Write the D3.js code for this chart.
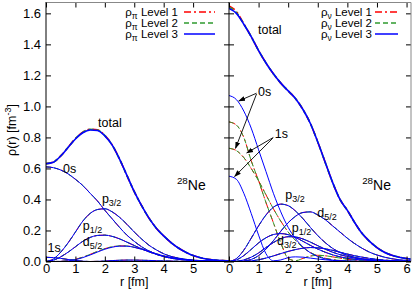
<!DOCTYPE html>
<html>
<head>
<meta charset="utf-8">
<script src="https://cdn.jsdelivr.net/npm/d3@7"></script>
<style>
  body { margin: 0; background: #fff; }
  svg { font-family: "Liberation Sans", Arial, sans-serif; }
  .tick line { stroke: #000; }
</style>
</head>
<body>
<svg id="chart" width="415" height="291"></svg>
<script>
// radial grid (fm)
var rVals = [0,0.25,0.5,0.75,1,1.25,1.5,1.75,2,2.25,2.5,2.75,3,3.25,3.5,3.75,4,4.25,4.5,4.75,5,5.25,5.5,5.75,6,6.25];

// proton densities
var piTotal1 = [0.631,0.641,0.681,0.737,0.793,0.834,0.853,0.849,0.813,0.752,0.661,0.555,0.45,0.36,0.28,0.215,0.165,0.122,0.087,0.06,0.038,0.024,0.015,0.009,0.006,0.004];
var piTotal2 = [0.631,0.641,0.681,0.736,0.792,0.833,0.852,0.848,0.812,0.751,0.66,0.555,0.45,0.36,0.28,0.215,0.165,0.122,0.087,0.06,0.038,0.024,0.015,0.009,0.006,0.004];
var piTotal3 = [0.63,0.64,0.68,0.735,0.79,0.83,0.848,0.845,0.81,0.75,0.66,0.555,0.45,0.36,0.28,0.215,0.165,0.122,0.087,0.06,0.038,0.024,0.015,0.009,0.006,0.004];
var pi0s  = [0.61,0.605,0.59,0.565,0.53,0.49,0.44,0.39,0.33,0.275,0.22,0.17,0.13,0.095,0.068,0.047,0.032,0.021,0.014,0.009,0.006,0.004,0.002,0.001,0.001,0];
var pi1s  = [0.027,0.025,0.02,0.013,0.007,0.002,0,0.001,0.003,0.006,0.008,0.009,0.009,0.008,0.007,0.005,0.004,0.003,0.002,0.001,0.001,0,0,0,0,0];
var piP32 = [0,0.016,0.06,0.12,0.19,0.26,0.31,0.335,0.34,0.32,0.285,0.24,0.19,0.145,0.105,0.075,0.05,0.033,0.022,0.014,0.009,0.006,0.004,0.002,0.001,0.001];
var piP12 = [0,0.008,0.03,0.06,0.095,0.13,0.155,0.168,0.17,0.162,0.146,0.125,0.103,0.082,0.062,0.046,0.033,0.023,0.016,0.011,0.007,0.005,0.003,0.002,0.001,0.001];
var piD52 = [0,0,0.001,0.004,0.012,0.025,0.042,0.061,0.079,0.092,0.099,0.099,0.091,0.079,0.065,0.05,0.036,0.025,0.017,0.011,0.007,0.004,0.003,0.002,0.001,0.001];
var piD52b = [0,0,0.001,0.005,0.014,0.028,0.046,0.065,0.083,0.095,0.101,0.1,0.092,0.08,0.065,0.05,0.036,0.025,0.017,0.011,0.007,0.004,0.003,0.002,0.001,0.001];

// neutron densities
var nuTotal1 = [1.648,1.612,1.533,1.45,1.36,1.28,1.21,1.15,1.1,1.05,0.98,0.89,0.77,0.64,0.51,0.4,0.33,0.25,0.18,0.13,0.09,0.06,0.04,0.028,0.019,0.013];
var nuTotal2 = [1.64,1.606,1.531,1.45,1.36,1.28,1.21,1.15,1.1,1.05,0.98,0.89,0.77,0.64,0.51,0.4,0.33,0.25,0.18,0.13,0.09,0.06,0.04,0.028,0.019,0.013];
var nuTotal3 = [1.632,1.6,1.53,1.45,1.36,1.28,1.21,1.15,1.1,1.05,0.98,0.89,0.77,0.64,0.51,0.4,0.33,0.25,0.18,0.13,0.09,0.06,0.04,0.028,0.019,0.013];
var nu0s3  = [1.07,1.044,0.97,0.86,0.72,0.58,0.44,0.32,0.22,0.147,0.094,0.056,0.032,0.017,0.009,0.004,0.002,0.001,0,0,0,0,0,0,0,0];
var nu0s12 = [0.73,0.715,0.67,0.6,0.52,0.43,0.34,0.26,0.19,0.135,0.09,0.058,0.036,0.021,0.012,0.007,0.004,0.002,0.001,0,0,0,0,0,0,0];
var nu1s3  = [0.55,0.53,0.44,0.31,0.17,0.05,0.005,0.01,0.025,0.03,0.028,0.022,0.016,0.011,0.007,0.004,0.003,0.002,0.001,0,0,0,0,0,0,0];
var nu1s12 = [0.9,0.88,0.8,0.65,0.52,0.38,0.25,0.12,0.02,0.005,0.02,0.035,0.04,0.037,0.03,0.022,0.015,0.01,0.006,0.004,0.002,0.001,0,0,0,0];
var nuP32 = [0,0.019,0.073,0.15,0.23,0.3,0.35,0.37,0.36,0.325,0.276,0.22,0.167,0.122,0.085,0.058,0.04,0.027,0.018,0.012,0.008,0.005,0.003,0.002,0.001,0.001];
var nuP12 = [0,0.01,0.038,0.078,0.12,0.153,0.174,0.18,0.173,0.155,0.13,0.104,0.08,0.06,0.043,0.03,0.021,0.014,0.01,0.007,0.005,0.003,0.002,0.001,0.001,0];
var nuD32b = [0,0.002,0.01,0.028,0.055,0.09,0.122,0.147,0.16,0.158,0.145,0.125,0.102,0.08,0.06,0.044,0.032,0.022,0.015,0.01,0.007,0.005,0.003,0.002,0.001,0.001];
var nuD52 = [0,0,0.003,0.013,0.038,0.08,0.134,0.195,0.25,0.292,0.316,0.32,0.3,0.27,0.23,0.19,0.15,0.115,0.085,0.06,0.042,0.028,0.018,0.011,0.007,0.004];
var nuD32 = [0,0,0.001,0.004,0.011,0.022,0.036,0.051,0.065,0.077,0.086,0.09,0.088,0.082,0.072,0.06,0.048,0.037,0.028,0.02,0.014,0.009,0.006,0.004,0.002,0.001];

// ticks and labels
var xTicksLeft = [0,1,2,3,4,5];
var xTicksRight = [0,1,2,3,4,5,6];
var yTicks = [0,0.2,0.4,0.6,0.8,1.0,1.2,1.4,1.6];
var levelNames = ["Level 1", "Level 2", "Level 3"];
var levelColors = ["#ff0000", "#2f9a2f", "#0000ff"];
var levelDash = ["7,3,2,3", "5,3", null];

var svg = d3.select("#chart");

var y = d3.scaleLinear().domain([0, 1.67]).range([261.5, 2.5]);
var xL = d3.scaleLinear().domain([0, 6.22]).range([46, 229]);
var xR = d3.scaleLinear().domain([0, 6.15]).range([229, 411]);

// clip regions
var defs = svg.append("defs");
defs.append("clipPath").attr("id", "clipL").append("rect")
    .attr("x", 46).attr("y", 2).attr("width", 183).attr("height", 260);
defs.append("clipPath").attr("id", "clipR").append("rect")
    .attr("x", 229).attr("y", 2).attr("width", 182).attr("height", 260);
defs.append("marker").attr("id", "arrow")
    .attr("viewBox", "0 0 10 10").attr("refX", 9).attr("refY", 5)
    .attr("markerWidth", 7).attr("markerHeight", 7)
    .attr("markerUnits", "userSpaceOnUse")
    .attr("orient", "auto")
  .append("path").attr("d", "M0,1.5 L10,5 L0,8.5 Z").attr("fill", "#000");

function drawPanel(x, clipId, totals, orbitals) {
    var g = svg.append("g").attr("clip-path", "url(#" + clipId + ")");
    var line = d3.line()
        .x(function (d, i) { return x(rVals[i]); })
        .y(function (d) { return y(d); })
        .curve(d3.curveMonotoneX);
    for (var lv = 0; lv < 3; lv++) {
        orbitals[lv].forEach(function (arr) {
            g.append("path")
              .datum(arr)
              .attr("d", line)
              .attr("fill", "none")
              .attr("stroke", levelColors[lv])
              .attr("stroke-width", 1)
              .attr("stroke-dasharray", levelDash[lv]);
        });
        g.append("path")
          .datum(totals[lv])
          .attr("d", line)
          .attr("fill", "none")
          .attr("stroke", levelColors[lv])
          .attr("stroke-width", 1.6)
          .attr("stroke-dasharray", levelDash[lv]);
    }
}

drawPanel(xL, "clipL",
    [piTotal1, piTotal2, piTotal3],
    [[pi0s, pi1s, piP32, piP12, piD52b],
     [pi0s, pi1s, piP32, piP12, piD52b],
     [pi0s, pi1s, piP32, piP12, piD52]]);

drawPanel(xR, "clipR",
    [nuTotal1, nuTotal2, nuTotal3],
    [[nu0s12, nu1s12, nuP32, nuP12, nuD32b, nuD52, nuD32],
     [nu0s12, nu1s12, nuP32, nuP12, nuD32b, nuD52, nuD32],
     [nu0s3, nu1s3, nuP32, nuP12, nuD32b, nuD52, nuD32]]);

// axes
function styleAxis(g) {
    g.select(".domain").remove();
    g.selectAll("text").attr("font-size", 13).attr("fill", "#000")
        .attr("font-family", "Liberation Sans, Arial, sans-serif");
}
svg.append("g").attr("transform", "translate(0,261.5)")
    .call(d3.axisBottom(xL).tickValues(xTicksLeft).tickSize(-5).tickPadding(2).tickFormat(d3.format("d"))).call(styleAxis);
svg.append("g").attr("transform", "translate(0,261.5)")
    .call(d3.axisBottom(xR).tickValues(xTicksRight).tickSize(-5).tickPadding(2).tickFormat(d3.format("d"))).call(styleAxis);
svg.append("g").attr("transform", "translate(0,2.5)")
    .call(d3.axisTop(xL).tickValues(xTicksLeft).tickSize(-5).tickFormat("")).call(styleAxis);
svg.append("g").attr("transform", "translate(0,2.5)")
    .call(d3.axisTop(xR).tickValues(xTicksRight).tickSize(-5).tickFormat("")).call(styleAxis);
svg.append("g").attr("transform", "translate(46,0)")
    .call(d3.axisLeft(y).tickValues(yTicks).tickSize(-5).tickPadding(5).tickFormat(d3.format(".1f"))).call(styleAxis);
svg.append("g").attr("transform", "translate(229,0)")
    .call(d3.axisRight(y).tickValues(yTicks).tickSize(-5).tickFormat("")).call(styleAxis);
svg.append("g").attr("transform", "translate(229,0)")
    .call(d3.axisLeft(y).tickValues(yTicks).tickSize(-5).tickFormat("")).call(styleAxis);
svg.append("g").attr("transform", "translate(411,0)")
    .call(d3.axisRight(y).tickValues(yTicks).tickSize(-5).tickFormat("")).call(styleAxis);

// frame
svg.append("path").attr("d", "M46,2.5 H411 V261.5").attr("fill", "none").attr("stroke", "#888");
svg.append("path").attr("d", "M46,2 V261.5 H411 M229,2 V261.5").attr("fill", "none").attr("stroke", "#000");

// axis titles
var yt = svg.append("text")
    .attr("transform", "translate(16,130) rotate(-90)")
    .attr("text-anchor", "middle").attr("font-size", 12.5);
yt.append("tspan").text("ρ(r) [fm");
yt.append("tspan").attr("dy", -5).attr("font-size", 9).text("-3");
yt.append("tspan").attr("dy", 5).text("]");

svg.append("text").attr("x", xL(3)).attr("y", 286).attr("text-anchor", "middle")
    .attr("font-size", 12.5).text("r [fm]");
svg.append("text").attr("x", xR(3)).attr("y", 286).attr("text-anchor", "middle")
    .attr("font-size", 12.5).text("r [fm]");

// legends
function legend(xText, x0, x1, sub) {
    for (var i = 0; i < 3; i++) {
        var yy = 12 + i * 11;
        var t = svg.append("text").attr("x", xText).attr("y", yy + 4)
            .attr("text-anchor", "end").attr("font-size", 11.5);
        t.append("tspan").text("ρ");
        t.append("tspan").attr("dy", 3).attr("font-size", 8.5).text(sub);
        t.append("tspan").attr("dy", -3).text(" " + levelNames[i]);
        svg.append("line").attr("x1", x0).attr("x2", x1).attr("y1", yy).attr("y2", yy)
            .attr("stroke", levelColors[i]).attr("stroke-width", 1.5)
            .attr("stroke-dasharray", levelDash[i]);
    }
}
legend(178, 184, 215, "π");
legend(372, 375, 398, "ν");

// curve labels
function label(x, r, v, main, sub, sup, size) {
    var fs = size || 12.5;
    var t = svg.append("text").attr("x", x(r)).attr("y", y(v)).attr("font-size", fs);
    if (sup) {
        t.append("tspan").attr("font-size", fs * 0.7).attr("dy", -6).text(sup);
        t.append("tspan").attr("dy", 6).text(main);
    } else {
        t.append("tspan").text(main);
        if (sub) t.append("tspan").attr("dy", 3).attr("font-size", 9).text(sub);
    }
}
label(xL, 1.77, 0.865, "total");
label(xL, 0.58, 0.57, "0s");
label(xL, 1.9, 0.38, "p", "3/2");
label(xL, 1.25, 0.2, "p", "1/2");
label(xL, 1.25, 0.1, "d", "5/2");
label(xL, 0.05, 0.06, "1s");
label(xL, 4.45, 0.46, "Ne", null, "28", 14);

label(xR, 0.98, 1.47, "total");
label(xR, 0.98, 1.065, "0s");
label(xR, 1.55, 0.795, "1s");
label(xR, 1.9, 0.405, "p", "3/2");
label(xR, 2.98, 0.29, "d", "5/2");
label(xR, 2.12, 0.19, "p", "1/2");
label(xR, 1.62, 0.105, "d", "3/2");
label(xR, 4.5, 0.46, "Ne", null, "28", 14);

// arrows
function arrow(r0, v0, r1, v1) {
    svg.append("line")
        .attr("x1", xR(r0)).attr("y1", y(v0)).attr("x2", xR(r1)).attr("y2", y(v1))
        .attr("stroke", "#000").attr("stroke-width", 0.9)
        .attr("marker-end", "url(#arrow)");
}
arrow(0.93, 1.085, 0.33, 1.035);
arrow(0.93, 1.08, 0.22, 0.73);
arrow(1.5, 0.8, 0.6, 0.7);
arrow(1.48, 0.795, 0.19, 0.548);
</script>
</body>
</html>
